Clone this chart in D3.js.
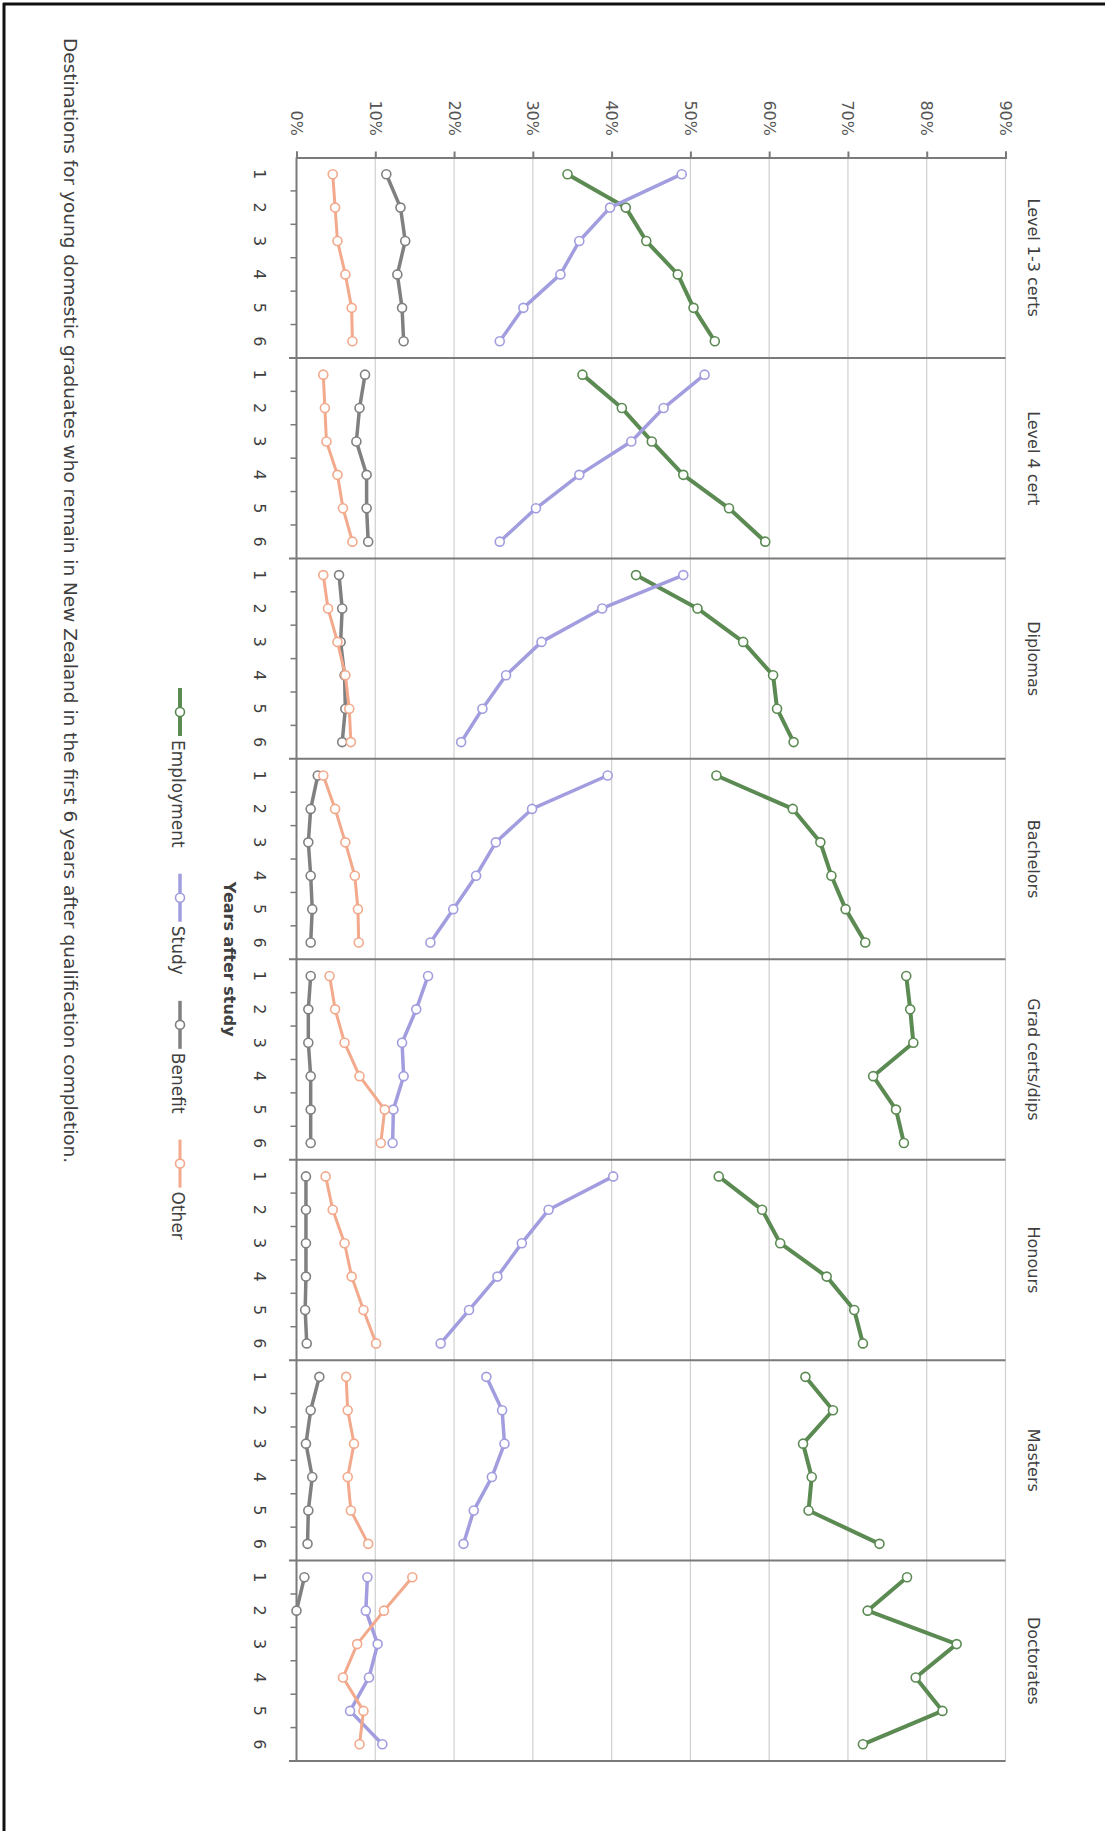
<!DOCTYPE html>
<html>
<head>
<meta charset="utf-8">
<script src="https://cdn.jsdelivr.net/npm/d3@7"></script>
<style>
  body { margin: 0; background: #fff; }
  text { font-family: "DejaVu Sans", sans-serif; fill: #404040; }
</style>
</head>
<body>
<div id="chart"></div>
<script>
// chart is drawn turned a quarter clockwise, like the scanned page
var categories = ["Level 1-3 certs", "Level 4 cert", "Diplomas", "Bachelors",
                  "Grad certs/dips", "Honours", "Masters", "Doctorates"];
var years = [1, 2, 3, 4, 5, 6];
var ticks = [0, 0.1, 0.2, 0.3, 0.4, 0.5, 0.6, 0.7, 0.8, 0.9];

// percent, one row per qualification
var employment = [
  [34.4, 41.8, 44.4, 48.4, 50.4, 53.1],
  [36.3, 41.3, 45.1, 49.1, 54.9, 59.5],
  [43.1, 50.9, 56.7, 60.5, 61.0, 63.1],
  [53.3, 63.0, 66.5, 67.9, 69.7, 72.2],
  [77.4, 77.9, 78.3, 73.2, 76.1, 77.1],
  [53.6, 59.1, 61.4, 67.3, 70.8, 71.9],
  [64.6, 68.1, 64.3, 65.4, 65.0, 74.0],
  [77.5, 72.5, 83.8, 78.6, 82.0, 71.9]
];
var study = [
  [48.9, 39.8, 35.9, 33.5, 28.8, 25.8],
  [51.8, 46.6, 42.5, 35.9, 30.4, 25.8],
  [49.1, 38.8, 31.1, 26.6, 23.6, 20.9],
  [39.5, 29.9, 25.3, 22.8, 19.9, 17.0],
  [16.7, 15.2, 13.4, 13.6, 12.3, 12.2],
  [40.2, 32.0, 28.6, 25.5, 21.9, 18.3],
  [24.1, 26.1, 26.4, 24.8, 22.5, 21.2],
  [9.0, 8.8, 10.3, 9.2, 6.8, 10.9]
];
var benefit = [
  [11.4, 13.2, 13.8, 12.8, 13.4, 13.6],
  [8.7, 8.0, 7.6, 8.9, 8.9, 9.1],
  [5.4, 5.8, 5.6, 6.1, 6.2, 5.8],
  [2.7, 1.8, 1.5, 1.8, 2.0, 1.8],
  [1.8, 1.5, 1.5, 1.8, 1.8, 1.8],
  [1.2, 1.2, 1.2, 1.2, 1.1, 1.3],
  [2.9, 1.8, 1.2, 2.0, 1.5, 1.4],
  [1.0, 0.0, null, null, null, null]
];
var other = [
  [4.6, 4.9, 5.2, 6.2, 7.0, 7.1],
  [3.4, 3.6, 3.8, 5.2, 5.9, 7.1],
  [3.4, 4.0, 5.2, 6.2, 6.7, 6.9],
  [3.4, 4.9, 6.2, 7.4, 7.8, 7.9],
  [4.2, 4.9, 6.1, 8.0, 11.2, 10.7],
  [3.7, 4.6, 6.1, 7.0, 8.5, 10.1],
  [6.3, 6.5, 7.3, 6.5, 6.9, 9.1],
  [14.7, 11.1, 7.7, 5.9, 8.5, 8.0]
];
var seriesNames = ["Employment", "Study", "Benefit", "Other"];
var seriesColors = ["#5b8a52", "#a19ddf", "#808080", "#f2a98c"];
var seriesWidths = [4, 3.5, 3.5, 3];
var seriesData = [employment, study, benefit, other];

var width = 1105, height = 1831;

var svg = d3.select("#chart").append("svg")
    .attr("width", width)
    .attr("height", height);

// page frame (top and left edges show on the scan)
svg.append("line").attr("x1", 3).attr("y1", 4).attr("x2", width).attr("y2", 4)
    .attr("stroke", "#111").attr("stroke-width", 3);
svg.append("line").attr("x1", 4).attr("y1", 3).attr("x2", 4).attr("y2", height)
    .attr("stroke", "#111").attr("stroke-width", 3);

var x = d3.scaleLinear().domain([0, 0.9]).range([296.5, 1005.5]);
var panel = d3.scaleBand().domain(categories).range([157.5, 1761]);
var yr = d3.scaleBand().domain(years).range([0, panel.bandwidth()]);

var plotTop = panel.range()[0], plotBottom = panel.range()[1];

// gridlines
svg.selectAll(".grid").data(ticks.slice(1)).enter().append("line")
    .attr("x1", function (d) { return x(d); })
    .attr("x2", function (d) { return x(d); })
    .attr("y1", plotTop)
    .attr("y2", plotBottom)
    .attr("stroke", "#cfcfcf")
    .attr("stroke-width", 1.2);

// value axis across the top
var vAxis = svg.append("g")
    .attr("transform", "translate(0," + plotTop + ")")
    .call(d3.axisTop(x).tickValues(ticks).tickSize(6).tickFormat(""));
vAxis.selectAll("path, line").attr("stroke", "#7a7a7a").attr("stroke-width", 2);

svg.selectAll(".vlab").data(ticks).enter().append("text")
    .attr("transform", function (d) { return "translate(" + x(d) + ",136) rotate(90)"; })
    .attr("text-anchor", "end")
    .attr("dominant-baseline", "central")
    .attr("font-size", 16)
    .style("fill", "#555")
    .text(d3.format(".0%"));

// panel separators and bottom line
svg.selectAll(".sep").data(categories.slice(1)).enter().append("line")
    .attr("x1", 289)
    .attr("x2", x(0.9))
    .attr("y1", function (d) { return panel(d); })
    .attr("y2", function (d) { return panel(d); })
    .attr("stroke", "#7a7a7a")
    .attr("stroke-width", 2);
svg.append("line")
    .attr("x1", 289).attr("x2", x(0.9))
    .attr("y1", plotBottom).attr("y2", plotBottom)
    .attr("stroke", "#7a7a7a").attr("stroke-width", 2);

// category axis on the left
svg.append("line")
    .attr("x1", x(0)).attr("x2", x(0))
    .attr("y1", plotTop).attr("y2", plotBottom)
    .attr("stroke", "#7a7a7a").attr("stroke-width", 2);

var panels = svg.selectAll(".panel").data(categories).enter().append("g")
    .attr("transform", function (d) { return "translate(0," + panel(d) + ")"; });

panels.selectAll(".ytick").data(years.slice(1)).enter().append("line")
    .attr("x1", x(0) - 6).attr("x2", x(0))
    .attr("y1", function (d) { return yr(d); })
    .attr("y2", function (d) { return yr(d); })
    .attr("stroke", "#7a7a7a").attr("stroke-width", 1.5);

panels.selectAll(".ylab").data(years).enter().append("text")
    .attr("transform", function (d) { return "translate(259," + (yr(d) + yr.bandwidth() / 2) + ") rotate(90)"; })
    .attr("text-anchor", "middle")
    .attr("dominant-baseline", "central")
    .attr("font-size", 16)
    .text(function (d) { return d; });

panels.append("text")
    .attr("transform", "translate(1033," + panel.bandwidth() / 2 + ") rotate(90)")
    .attr("text-anchor", "middle")
    .attr("dominant-baseline", "central")
    .attr("font-size", 16)
    .text(function (d) { return d; });

// the lines and markers
var line = d3.line()
    .defined(function (d) { return d.v !== null; })
    .x(function (d) { return x(d.v / 100); })
    .y(function (d) { return yr(d.year) + yr.bandwidth() / 2; });

seriesData.forEach(function (rows, s) {
    panels.each(function (cat, i) {
        var pts = rows[i].map(function (v, j) { return {year: years[j], v: v}; });
        var g = d3.select(this);
        g.append("path")
            .datum(pts)
            .attr("d", line)
            .attr("fill", "none")
            .attr("stroke", seriesColors[s])
            .attr("stroke-width", seriesWidths[s])
            .attr("stroke-linejoin", "round");
        g.selectAll(".m" + s).data(pts.filter(function (p) { return p.v !== null; }))
            .enter().append("circle")
            .attr("cx", function (p) { return x(p.v / 100); })
            .attr("cy", function (p) { return yr(p.year) + yr.bandwidth() / 2; })
            .attr("r", 4.5)
            .attr("fill", "#fff")
            .attr("stroke", seriesColors[s])
            .attr("stroke-width", 1.6);
    });
});

// axis title
svg.append("text")
    .attr("transform", "translate(229," + (plotTop + plotBottom) / 2 + ") rotate(90)")
    .attr("text-anchor", "middle")
    .attr("dominant-baseline", "central")
    .attr("font-size", 16)
    .attr("font-weight", "bold")
    .text("Years after study");

// legend
var legY = 688;
seriesNames.forEach(function (name, s) {
    var g = svg.append("g").attr("transform", "translate(180," + legY + ")");
    g.append("line").attr("x1", 0).attr("x2", 0).attr("y1", 0).attr("y2", 48)
        .attr("stroke", seriesColors[s]).attr("stroke-width", seriesWidths[s]);
    g.append("circle").attr("cx", 0).attr("cy", 24).attr("r", 4.5)
        .attr("fill", "#fff").attr("stroke", seriesColors[s]).attr("stroke-width", 1.6);
    var t = g.append("text")
        .attr("transform", "translate(-2,52) rotate(90)")
        .attr("dominant-baseline", "central")
        .attr("font-size", 17)
        .text(name);
    legY += 52 + t.node().getComputedTextLength() + 26;
});

// caption
svg.append("text")
    .attr("transform", "translate(70,38) rotate(90)")
    .attr("dominant-baseline", "central")
    .attr("font-size", 18.5)
    .text("Destinations for young domestic graduates who remain in New Zealand in the first 6 years after qualification completion.");
</script>
</body>
</html>
